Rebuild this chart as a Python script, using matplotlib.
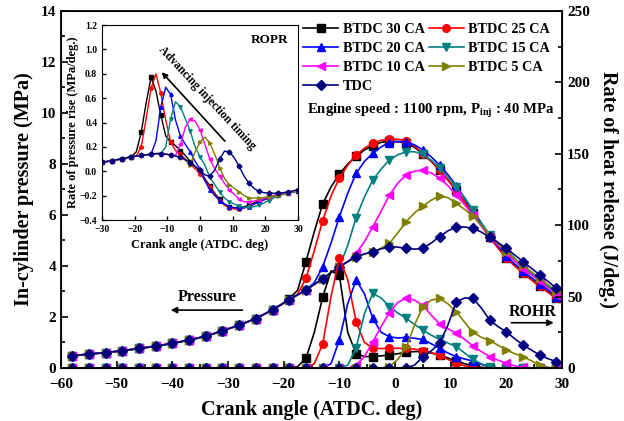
import numpy as np
import matplotlib
matplotlib.use("Agg")
import matplotlib.pyplot as plt
from matplotlib.ticker import MultipleLocator

plt.rcParams['font.family'] = ['Liberation Serif', 'DejaVu Serif']
plt.rcParams['font.weight'] = 'bold'
plt.rcParams['axes.labelweight'] = 'bold'
plt.rcParams['mathtext.fontset'] = 'custom'
plt.rcParams['mathtext.rm'] = 'Liberation Serif:bold'
plt.rcParams['mathtext.it'] = 'Liberation Serif:bold'

#crank angle grid of main plot (markers every 3 deg)
crank = np.concatenate((np.arange(-58, 29.1, 1.5), [30]))

#motoring part, same for all cases (-58 .. -20.5)
p_motor = [0.47, 0.51, 0.55, 0.575, 0.60, 0.64, 0.68, 0.72, 0.77, 0.81, 0.86, 0.91, 0.97,
           1.03, 1.10, 1.17, 1.25, 1.35, 1.46, 1.57, 1.68, 1.81, 1.94, 2.11, 2.29, 2.48]
r_motor = [0.0] * len(p_motor)

labels = ["BTDC 30 CA", "BTDC 25 CA", "BTDC 20 CA", "BTDC 15 CA", "BTDC 10 CA", "BTDC 5 CA", "TDC"]
colors = ["black", "red", "blue", "#008080", "magenta", "#808000", "#000080"]
markers = ["s", "o", "^", "v", "<", ">", "D"]

#in-cylinder pressure (MPa), -19 .. 29 step 1.5, then 30
p30 = [2.72, 3.05, 4.17, 5.35, 6.43, 7.10, 7.60, 8.00, 8.30, 8.55, 8.72, 8.85, 8.90, 8.88, 8.82, 8.65, 8.40,
       8.10, 7.77, 7.38, 6.97, 6.52, 6.07, 5.60, 5.14, 4.72, 4.33, 4.02, 3.74, 3.47, 3.22, 2.98, 2.75, 2.68]
p25 = [2.68, 2.90, 3.52, 4.60, 5.78, 6.75, 7.44, 7.95, 8.35, 8.62, 8.81, 8.93, 8.98, 8.97, 8.92, 8.70, 8.40,
       8.10, 7.75, 7.37, 6.95, 6.50, 6.05, 5.58, 5.12, 4.70, 4.30, 4.00, 3.72, 3.45, 3.20, 2.96, 2.73, 2.66]
p20 = [2.68, 2.87, 3.06, 3.35, 3.97, 4.90, 5.93, 6.85, 7.63, 8.10, 8.42, 8.67, 8.84, 8.88, 8.87, 8.75, 8.55,
       8.28, 7.96, 7.58, 7.15, 6.65, 6.15, 5.65, 5.18, 4.78, 4.40, 4.08, 3.80, 3.54, 3.30, 3.05, 2.80, 2.73]
p15 = [2.68, 2.87, 3.06, 3.28, 3.50, 3.74, 3.97, 4.80, 5.90, 6.70, 7.37, 7.80, 8.16, 8.36, 8.48, 8.48, 8.38,
       8.15, 7.85, 7.50, 7.11, 6.68, 6.20, 5.70, 5.22, 4.90, 4.63, 4.30, 3.97, 3.70, 3.45, 3.20, 2.93, 2.85]
p10 = [2.68, 2.87, 3.06, 3.28, 3.50, 3.74, 3.97, 4.17, 4.50, 4.95, 5.54, 6.15, 6.78, 7.25, 7.57, 7.72, 7.76,
       7.65, 7.44, 7.15, 6.78, 6.40, 5.99, 5.57, 5.15, 4.82, 4.50, 4.20, 3.90, 3.65, 3.40, 3.12, 2.85, 2.77]
p5 = [2.68, 2.87, 3.06, 3.28, 3.50, 3.74, 3.97, 4.17, 4.36, 4.47, 4.56, 4.70, 4.89, 5.30, 5.74, 6.08, 6.35,
      6.58, 6.75, 6.68, 6.46, 6.22, 5.96, 5.60, 5.20, 4.88, 4.55, 4.28, 4.02, 3.77, 3.52, 3.26, 3.00, 2.92]
p0 = [2.68, 2.87, 3.06, 3.28, 3.50, 3.74, 3.97, 4.17, 4.36, 4.47, 4.56, 4.67, 4.76, 4.74, 4.69, 4.66, 4.69,
      4.90, 5.15, 5.38, 5.52, 5.53, 5.48, 5.33, 5.13, 4.92, 4.69, 4.43, 4.17, 3.91, 3.65, 3.39, 3.13, 3.05]

#rate of heat release (J/deg.), same grid
r30 = [0, 1, 6.8, 25, 49.5, 68, 65, 25, 10, 8, 8, 8.5, 9.1, 10, 11, 11.5, 11.5,
       10.5, 9, 7, 5, 3, 1.5, 0.5, 0, 0, 0, 0, 0, 0, 0, 0, 0, 0]
r25 = [0, 0, 0, 3, 16.8, 50, 76.8, 62, 32.4, 18, 13.8, 13.6, 13.8, 13.8, 13.8, 13.2, 12.1,
       10.8, 9.1, 6, 3.3, 1.5, 0.5, 0, 0, 0, 0, 0, 0, 0, 0, 0, 0, 0]
r20 = [0, 0, 0, 0, 0, 3, 19.6, 45, 61.6, 52, 34.8, 25, 21.9, 21, 21.5, 20.8, 20,
       17, 13.8, 10.5, 7.9, 6.3, 4.9, 2.5, 1, 0, 0, 0, 0, 0, 0, 0, 0, 0]
r15 = [0, 0, 0, 0, 0, 0, 0, 2, 13.8, 38, 52.3, 49, 43, 38.5, 34.8, 30.5, 26.6,
       23, 20, 17.5, 15, 10.5, 6, 3, 1, 0, 0, 0, 0, 0, 0, 0, 0, 0]
r10 = [0, 0, 0, 0, 0, 0, 0, 0, 2, 8, 18.4, 29, 38.8, 46, 48.8, 47.5, 44,
       37, 31, 27.5, 24.5, 20, 15.5, 11.5, 8, 5.5, 3.3, 1.5, 0.5, 0, 0, 0, 0, 0]
r5 = [0, 0, 0, 0, 0, 0, 0, 0, 0, 0, 0, 0, 1, 6, 14.5, 30, 43,
      47.5, 48.8, 45, 39.4, 32, 25, 21.5, 19.1, 16, 12.6, 10, 7.9, 5, 2, 0.5, 0, 0]
r0 = [0, 0, 0, 0, 0, 0, 0, 0, 0, 0, 0, 0, 0, 0, 0, 2, 7.9,
      12, 17.3, 30, 46.4, 49, 48.8, 42, 33.6, 29, 25.4, 20.5, 16.1, 12.5, 9.1, 6.5, 4.4, 3.5]

#rate of pressure rise (MPa/deg.) for the inset, -30 .. 30 step 1.5
inset_crank = np.arange(-30, 30.1, 1.5)
ropr_base = [0.075, 0.08, 0.085, 0.095, 0.10, 0.11, 0.12]
q30 = [0.16, 0.32, 0.56, 0.77, 0.66, 0.46, 0.29, 0.24, 0.21, 0.17, 0.13, 0.08, 0.04, 0.0, -0.06, -0.12, -0.18,
       -0.23, -0.27, -0.29, -0.30, -0.30, -0.29, -0.28, -0.26, -0.24, -0.23, -0.21, -0.20, -0.19, -0.18, -0.175, -0.17, -0.16]
q25 = [0.125, 0.20, 0.43, 0.68, 0.80, 0.64, 0.42, 0.24, 0.17, 0.14, 0.10, 0.06, 0.02, -0.02, -0.07, -0.13, -0.19,
       -0.24, -0.28, -0.30, -0.31, -0.31, -0.30, -0.29, -0.27, -0.25, -0.235, -0.22, -0.205, -0.195, -0.185, -0.175, -0.17, -0.16]
q20 = [0.125, 0.13, 0.135, 0.14, 0.25, 0.53, 0.69, 0.63, 0.42, 0.29, 0.22, 0.16, 0.08, 0.02, -0.08, -0.15, -0.20,
       -0.24, -0.27, -0.29, -0.30, -0.30, -0.30, -0.29, -0.27, -0.25, -0.235, -0.22, -0.205, -0.195, -0.185, -0.175, -0.17, -0.16]
q15 = [0.125, 0.13, 0.135, 0.14, 0.145, 0.145, 0.20, 0.43, 0.57, 0.53, 0.43, 0.33, 0.20, 0.12, 0.05, -0.05, -0.11,
       -0.17, -0.22, -0.25, -0.27, -0.285, -0.295, -0.295, -0.29, -0.28, -0.26, -0.24, -0.22, -0.20, -0.19, -0.18, -0.17, -0.16]
q10 = [0.125, 0.13, 0.135, 0.14, 0.145, 0.145, 0.14, 0.135, 0.13, 0.22, 0.36, 0.43, 0.41, 0.34, 0.22, 0.10, 0.02,
       -0.04, -0.10, -0.15, -0.19, -0.23, -0.25, -0.25, -0.245, -0.235, -0.225, -0.21, -0.20, -0.19, -0.18, -0.175, -0.165, -0.155]
q5 = [0.125, 0.13, 0.135, 0.14, 0.145, 0.145, 0.14, 0.135, 0.125, 0.115, 0.09, 0.05, 0.16, 0.24, 0.28, 0.23, 0.14,
      0.03, -0.06, -0.11, -0.14, -0.17, -0.20, -0.22, -0.22, -0.22, -0.215, -0.21, -0.205, -0.20, -0.19, -0.18, -0.17, -0.155]
q0 = [0.125, 0.13, 0.135, 0.14, 0.145, 0.145, 0.14, 0.135, 0.125, 0.115, 0.095, 0.07, 0.04, 0.01, -0.03, -0.04, 0.01,
      0.10, 0.165, 0.16, 0.11, 0.04, -0.04, -0.10, -0.14, -0.165, -0.175, -0.18, -0.18, -0.18, -0.175, -0.17, -0.16, -0.15]

pressure = [p30, p25, p20, p15, p10, p5, p0]
rohr = [r30, r25, r20, r15, r10, r5, r0]
ropr = [q30, q25, q20, q15, q10, q5, q0]

fig = plt.figure(figsize=(6.24, 4.21), dpi=100)
ax = fig.add_axes([0.0978, 0.1259, 0.8029, 0.848])
ax2 = ax.twinx()

handles = []
for i in range(7):
    h, = ax.plot(crank, p_motor + pressure[i], color=colors[i], marker=markers[i], markevery=2,
                 ms=5.5, lw=1.2, label=labels[i])
    ax2.plot(crank, r_motor + rohr[i], color=colors[i], marker=markers[i], markevery=2, ms=5.5, lw=1.2)
    handles.append(h)

ax.set_xlim(-60, 30)
ax.set_ylim(0, 14)
ax2.set_ylim(0, 250)
ax.xaxis.set_major_locator(MultipleLocator(10))
ax.xaxis.set_minor_locator(MultipleLocator(5))
ax.yaxis.set_major_locator(MultipleLocator(2))
ax.yaxis.set_minor_locator(MultipleLocator(1))
ax2.yaxis.set_major_locator(MultipleLocator(50))
ax2.yaxis.set_minor_locator(MultipleLocator(25))
ax.tick_params(which='both', direction='in', labelsize=11, width=1.2)
ax.tick_params(which='major', length=5)
ax.tick_params(which='minor', length=3)
ax.tick_params(axis='x', pad=7)
ax2.tick_params(which='both', direction='in', labelsize=11, width=1.2)
ax2.tick_params(which='major', length=5)
ax2.tick_params(which='minor', length=3)
for s in ax2.spines.values():
    s.set_linewidth(1.3)

ax.set_xlabel("Crank angle (ATDC. deg)", fontsize=14.5, labelpad=7)
ax.set_ylabel("In-cylinder pressure (MPa)", fontsize=14.5, labelpad=5)
ax2.set_ylabel("Rate of heat release (J/deg.)", fontsize=14.5, rotation=270, labelpad=20)

order = [0, 2, 4, 6, 1, 3, 5]
fig.legend([handles[k] for k in order], [labels[k] for k in order], ncol=2, frameon=False,
           loc='upper left', bbox_to_anchor=(0.486, 0.946), fontsize=10.3,
           handlelength=2.45, handletextpad=0.3, columnspacing=0.3, labelspacing=0.42,
           borderaxespad=0, borderpad=0)
fig.text(0.492, 0.737, r"Engine speed : 1100 rpm, P$_{\mathrm{inj}}$ : 40 MPa", fontsize=10.6, va='center')

ax.annotate("", xy=(-40.8, 2.27), xytext=(-26.9, 2.27),
            arrowprops=dict(arrowstyle='-|>', color='black', lw=1.2, mutation_scale=9))
ax.text(-33.8, 2.8, "Pressure", ha='center', va='center', fontsize=11.5)
ax2.annotate("", xy=(29.0, 31.7), xytext=(20.4, 31.7),
             arrowprops=dict(arrowstyle='-|>', color='black', lw=1.2, mutation_scale=9))
ax2.text(24.8, 39.4, "ROHR", ha='center', va='center', fontsize=11.5)

#inset: rate of pressure rise
ins = fig.add_axes([0.1635, 0.4774, 0.3141, 0.4632])
for i in range(7):
    ins.plot(inset_crank, ropr_base + ropr[i], color=colors[i], marker=markers[i], markevery=2,
             ms=2.5, lw=1.0)
ins.set_xlim(-30, 30)
ins.set_ylim(-0.4, 1.2)
ins.xaxis.set_major_locator(MultipleLocator(10))
ins.yaxis.set_major_locator(MultipleLocator(0.2))
ins.tick_params(direction='in', labelsize=7, length=3, width=1.0)
ins.set_xlabel("Crank angle (ATDC. deg)", fontsize=9)
ins.set_ylabel("Rate of pressure rise (MPa/deg.)", fontsize=9, labelpad=0.5)
ins.annotate("", xy=(-12.3, 0.83), xytext=(8.2, 0.23),
             arrowprops=dict(arrowstyle='-|>', color='black', lw=1.2, mutation_scale=8))
ins.text(2.1, 0.60, "Advancing injection timing", rotation=-47, ha='center', va='center', fontsize=8.5)
ins.text(27, 1.08, "ROPR", ha='right', va='center', fontsize=9.5)

fig.savefig("out.png", dpi=100)
